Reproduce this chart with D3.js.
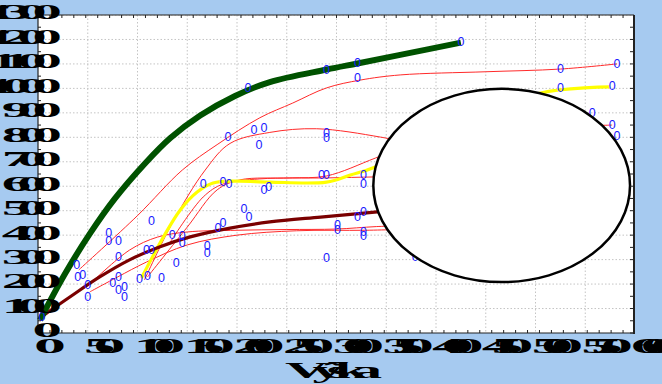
<!DOCTYPE html>
<html><head><meta charset="utf-8">
<script src="https://cdnjs.cloudflare.com/ajax/libs/d3/7.8.5/d3.min.js"></script>
<style>body{margin:0;background:#A6CAF0}svg{display:block}</style>
</head><body>
<script>
// ---- data ----
const xTickValues = [0,50,100,150,200,250,300,350,400,450,500,550,600];
const yTickValues = [0,100,200,300,400,500,600,700,800,900,1000,1100,1200,1300];
const xTitle = "Výška";
const points = [[4,65],[39,278],[40,229],[45,237],[50,196],[50,147],[71,409],[71,376],[81,376],[81,311],[75,204],[81,229],[81,176],[87,188],[87,147],[102,221],[110,233],[114,458],[109,339],[114,339],[124,225],[135,401],[145,397],[145,368],[139,286],[166,609],[186,617],[192,609],[170,356],[170,327],[181,429],[186,450],[207,507],[212,474],[227,585],[232,597],[191,801],[211,1002],[217,830],[227,838],[222,769],[290,1075],[321,1104],[321,1043],[290,818],[290,797],[285,646],[290,646],[327,646],[327,609],[327,495],[321,474],[301,442],[301,421],[327,413],[327,397],[290,307],[525,1002],[577,1010],[557,899],[577,850],[582,805],[379,311],[582,1100],[525,1079],[425,1190]];
const greenLine = [[2,53],[27,241],[52,405],[77,548],[108,695],[133,797],[163,889],[198,969],[233,1026],[290,1077],[321,1102],[364,1137],[425,1187]];
const maroonLine = [[3,65],[32,147],[62,229],[92,299],[122,352],[153,393],[193,429],[233,454],[284,474],[341,495],[400,515],[460,530]];
const yellowLine = [[104,225],[126,392],[143,503],[160,576],[176,613],[200,621],[233,617],[290,617],[314,646],[339,679],[420,850],[505,981],[575,1006]];
const redLines = [
  [[41,258],[100,480],[145,666],[180,770],[223,880],[256,940],[290,1002],[324,1034],[364,1055],[450,1068],[525,1079],[582,1100]],
  [[107,217],[135,450],[168,666],[193,775],[233,820],[280,835],[344,801],[380,770]],
  [[110,229],[150,433],[180,585],[203,626],[253,634],[290,642],[339,715],[380,780],[470,830],[577,850]],
  [[133,372],[166,556],[186,609],[223,630],[290,634],[339,638],[380,640]],
  [[52,200],[92,339],[120,392],[150,413],[200,420],[250,423],[300,425],[340,435],[380,440]],
  [[52,168],[80,229],[109,290],[150,360],[200,400],[260,418],[330,420],[380,425]]
];
const blankBubble = {cx:466, cy:603, rx:129, ry:395};

// ---- layout ----
const W=662,H=384;
const svg=d3.select("body").append("svg").attr("width",W).attr("height",H);
svg.append("rect").attr("width",W).attr("height",H).attr("fill","#A6CAF0");
const x=d3.scaleLinear().domain([0,600]).range([38,635]);
const y=d3.scaleLinear().domain([0,1300]).range([333,15]);
const [x0]=x.range(), [y0,y1]=y.range();
const xR=634;
svg.append("rect").attr("x",x0).attr("y",y1).attr("width",xR-x0).attr("height",y0-y1).attr("fill","#fff");

// grid
const grid=svg.append("g").attr("stroke","#c4c4c4").attr("stroke-dasharray","1.5,2").attr("stroke-width",1);
xTickValues.filter(v=>v>0&&v<600).forEach(v=>grid.append("line").attr("x1",x(v)).attr("x2",x(v)).attr("y1",y1).attr("y2",y0));
yTickValues.filter(v=>v>0).forEach(v=>grid.append("line").attr("x1",x0).attr("x2",xR).attr("y1",y(v)).attr("y2",y(v)));

const plot=svg.append("g");
const line=d3.line().x(d=>x(d[0])).y(d=>y(d[1])).curve(d3.curveCatmullRom.alpha(0.5));
const redG=plot.append("g");
redLines.forEach(r=>redG.append("path").attr("d",line(r)).attr("fill","none").attr("stroke","#ff2a2a").attr("stroke-width",1));
plot.append("path").attr("d",line(yellowLine)).attr("fill","none").attr("stroke","#ffff00").attr("stroke-width",3.2);
plot.append("path").attr("d",line(maroonLine)).attr("fill","none").attr("stroke","#7a0000").attr("stroke-width",3.2);
plot.append("path").attr("d",line(greenLine)).attr("fill","none").attr("stroke","#005200").attr("stroke-width",6);

plot.selectAll("text.pt").data(points).join("text").attr("class","pt")
  .attr("x",d=>x(d[0])).attr("y",d=>y(d[1])).attr("dy","0.35em")
  .attr("text-anchor","middle").attr("font-family","Liberation Sans, Arial").attr("font-size",12.5)
  .attr("fill","#1a1aff").text("0");

// blank bubble
plot.append("ellipse").attr("cx",x(blankBubble.cx)).attr("cy",y(blankBubble.cy))
  .attr("rx",x(blankBubble.rx)-x(0)).attr("ry",y(0)-y(blankBubble.ry))
  .attr("fill","#fff").attr("stroke","#000").attr("stroke-width",2.5);

// frame & ticks
const fr=svg.append("g").attr("stroke","#222");
fr.append("line").attr("x1",x0).attr("x2",xR).attr("y1",y1).attr("y2",y1).attr("stroke-width",1);
fr.append("line").attr("x1",xR).attr("x2",xR).attr("y1",y1).attr("y2",y0+1).attr("stroke-width",2);
fr.append("line").attr("x1",x0).attr("x2",x0).attr("y1",y1).attr("y2",y0).attr("stroke-width",1.2);
fr.append("line").attr("x1",x0).attr("x2",xR).attr("y1",y0).attr("y2",y0).attr("stroke-width",1.2);
d3.range(0,600,12).forEach(v=>{
  fr.append("line").attr("x1",x(v)).attr("x2",x(v)).attr("y1",y1).attr("y2",y1+3);
  fr.append("line").attr("x1",x(v)).attr("x2",x(v)).attr("y1",y0).attr("y2",y0-3);
});
d3.range(0,1300,50).forEach(v=>{
  fr.append("line").attr("x1",xR-1).attr("x2",xR-4).attr("y1",y(v)).attr("y2",y(v));
  fr.append("line").attr("x1",x0).attr("x2",x0+3).attr("y1",y(v)).attr("y2",y(v));
});

// mashed labels
function mashed(g,str,tx,ty,anchor,sx,ls,fs){
  const gg=g.append("g").attr("transform",`translate(${tx},${ty}) scale(${sx},1)`);
  gg.append("text").attr("text-anchor",anchor).attr("font-family","Liberation Serif, serif").attr("font-weight","bold")
    .attr("font-size",fs).attr("letter-spacing",ls).attr("fill","#000").attr("dy","0.35em").text(str);
}
const lab=svg.append("g");
yTickValues.forEach(v=>mashed(lab,String(v),48,y(v)-3,"end",2.8,-5,21));
xTickValues.forEach(v=>mashed(lab,String(v),x(v)-4,345,"start",2.9,-7.6,22));
mashed(lab,xTitle,285,370,"start",2.6,-6,23);
</script>
</body></html>
